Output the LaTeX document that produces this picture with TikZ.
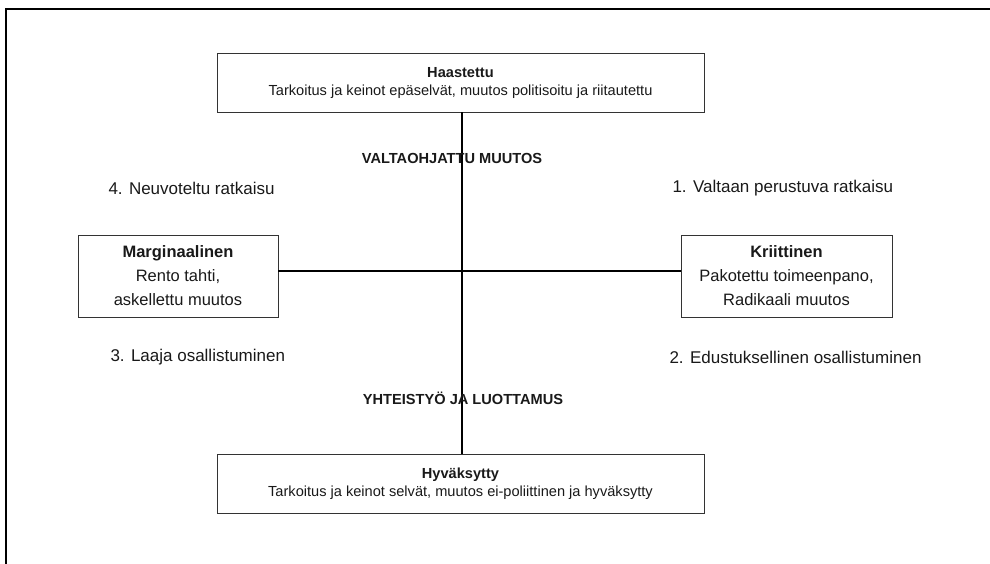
\documentclass[tikz,border=0pt]{standalone}
\usepackage{fontspec}
\setmainfont{Liberation Sans}
\usetikzlibrary{calc}
\begin{document}
\begin{tikzpicture}[x=1pt,y=-1pt,
  every node/.style={text=black!90},
  widebox/.style={draw=black!80, line width=0.9pt, align=center, inner sep=0pt,
    minimum width=487pt, minimum height=59pt, font=\fontsize{14.6}{18}\selectfont},
  sidebox/.style={draw=black!80, line width=0.9pt, align=center, inner sep=0pt,
    minimum height=82pt, font=\fontsize{16.5}{24}\selectfont},
  axislabel/.style={font=\bfseries\fontsize{14.6}{18}\selectfont},
  quadlabel/.style={anchor=west, font=\fontsize{17}{20}\selectfont},
  axisline/.style={draw=black, line width=1.2pt}]
  \useasboundingbox (0,0) rectangle (990,563);
  % outer frame (runs off the page to the right and bottom)
  \draw[line width=1.6pt] (6,570) -- (6,9) -- (995,9);

  % the four states
  \node[widebox] (top) at (460.5,82.5)
    {\textbf{Haastettu}\\Tarkoitus ja keinot epäselvät, muutos politisoitu ja riitautettu};
  \node[widebox] (bottom) at (460.5,483.5)
    {\textbf{Hyväksytty}\\Tarkoitus ja keinot selvät, muutos ei-poliittinen ja hyväksytty};
  \node[sidebox, minimum width=200pt] (marg) at (178,276)
    {\textbf{Marginaalinen}\\Rento tahti,\\askellettu muutos};
  \node[sidebox, minimum width=211pt] (krit) at (786.5,276)
    {\textbf{Kriittinen}\\Pakotettu toimeenpano,\\Radikaali muutos};

  % axes
  \coordinate (vtop) at ($(top.south)+(1.5,0)$);
  \coordinate (vbot) at ($(bottom.north)+(1.5,0)$);
  \coordinate (hleft) at ($(marg.east)+(0,-5)$);
  \coordinate (hright) at ($(krit.west)+(0,-5)$);
  \draw[axisline] (vtop) -- (vbot);
  \draw[axisline] (hleft) -- (hright);

  % axis labels
  \node[axislabel] (power) at (452,158) {VALTAOHJATTU MUUTOS};
  \node[axislabel] (trust) at (463,398) {YHTEISTYÖ JA LUOTTAMUS};

  % quadrant labels
  \node[quadlabel] (q4) at (105,188) {4. Neuvoteltu ratkaisu};
  \node[quadlabel] (q1) at (669,188) {1. Valtaan perustuva ratkaisu};
  \node[quadlabel] (q3) at (107,357) {3. Laaja osallistuminen};
  \node[quadlabel] (q2) at (666,357) {2. Edustuksellinen osallistuminen};
\end{tikzpicture}
\end{document}
